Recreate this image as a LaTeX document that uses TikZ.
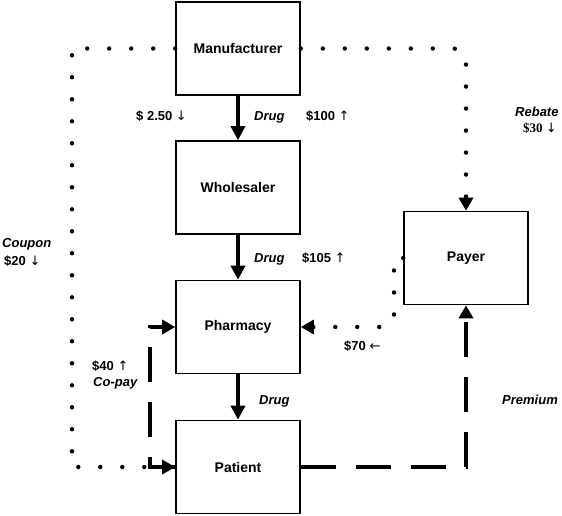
\documentclass[tikz,border=0pt]{standalone}
\usepackage{fontspec}
\setmainfont{Liberation Sans}
\newfontfamily\serifb{Liberation Serif}
\newfontfamily\arrfont{DejaVu Sans}
\newcommand{\ar}[1]{{\arrfont\mdseries\upshape #1}}
\usetikzlibrary{arrows.meta}
\begin{document}
\begin{tikzpicture}[x=1pt,y=-1pt,
 box/.style={draw,line width=1.6pt,minimum width=124pt,minimum height=93pt,inner sep=0pt,font=\fontsize{14}{16}\selectfont\bfseries},
 lbl/.style={font=\fontsize{13}{15}\selectfont\bfseries,inner sep=0pt,anchor=base west},
 ilbl/.style={lbl,font=\fontsize{13}{15}\selectfont\bfseries\itshape},
 flow/.style={line width=4pt,-{Triangle[width=14pt,length=14pt]}},
 dotline/.style={line width=4.4pt,line cap=round,dash pattern=on 0pt off 22pt},
 dashline/.style={line width=4pt,dash pattern=on 35pt off 20pt},
 tip/.style={-{Triangle[width=14pt,length=13pt]}}
]
\useasboundingbox (0,0) rectangle (562,516);
% boxes
\node[box] (man) at (238,48.5) {Manufacturer};
\node[box] (who) at (238,187.5) {Wholesaler};
\node[box] (pha) at (238,327) {Pharmacy};
\node[box] (pat) at (238,467) {Patient};
\node[box] (pay) at (466,258) {Payer};
% drug flow
\draw[flow] (man) -- (who);
\draw[flow] (who) -- (pha);
\draw[flow] (pha) -- (pat);
% corner coordinates
\coordinate (cl1) at (72,48.5);
\coordinate (cl2) at (72,467);
\coordinate (cr1) at (466,48.5);
\coordinate (cp1) at (394,258);
\coordinate (cp2) at (394,327);
\coordinate (cd1) at (466,467);
\coordinate (cc1) at (150,467);
\coordinate (cc2) at (150,327);
% dashed lines
\draw[dashline,tip] (pat.west) -- (cc1) -- (cc2) -- (pha.west);
\draw[dashline,tip] (pat.east) -- (cd1) -- (pay.south);
% dotted lines
\draw[dotline,tip] (man.west) -- (cl1) -- (cl2) -- (pat.west);
\draw[dotline,tip,rounded corners=12pt] (man.east) -- (cr1) -- (pay.north);
\draw[dotline,tip,rounded corners=12pt] (pay.west) -- (cp1) -- (cp2) -- (pha.east);
% labels
\node[lbl] (l1) at (136,121) {\$ 2.50 \ar{↓}};
\node[ilbl] (l2) at (254,121) {Drug};
\node[lbl] (l3) at (306,121) {\$100 \ar{↑}};
\node[ilbl] (l4) at (515,117) {Rebate};
\node[lbl,font=\serifb\fontsize{13}{15}\selectfont\bfseries] (l5) at (523,133) {\$30 \ar{↓}};
\node[ilbl] (l6) at (2,247) {Coupon};
\node[lbl] (l7) at (4,265) {\$20 \ar{↓}};
\node[ilbl] (l8) at (254,262) {Drug};
\node[lbl] (l9) at (302,262) {\$105 \ar{↑}};
\node[lbl] (l10) at (344,350) {\$70 \ar{←}};
\node[lbl] (l11) at (92,370) {\$40 \ar{↑}};
\node[ilbl] (l12) at (93,386) {Co-pay};
\node[ilbl] (l13) at (259,404) {Drug};
\node[ilbl] (l14) at (502,404) {Premium};
\end{tikzpicture}
\end{document}
